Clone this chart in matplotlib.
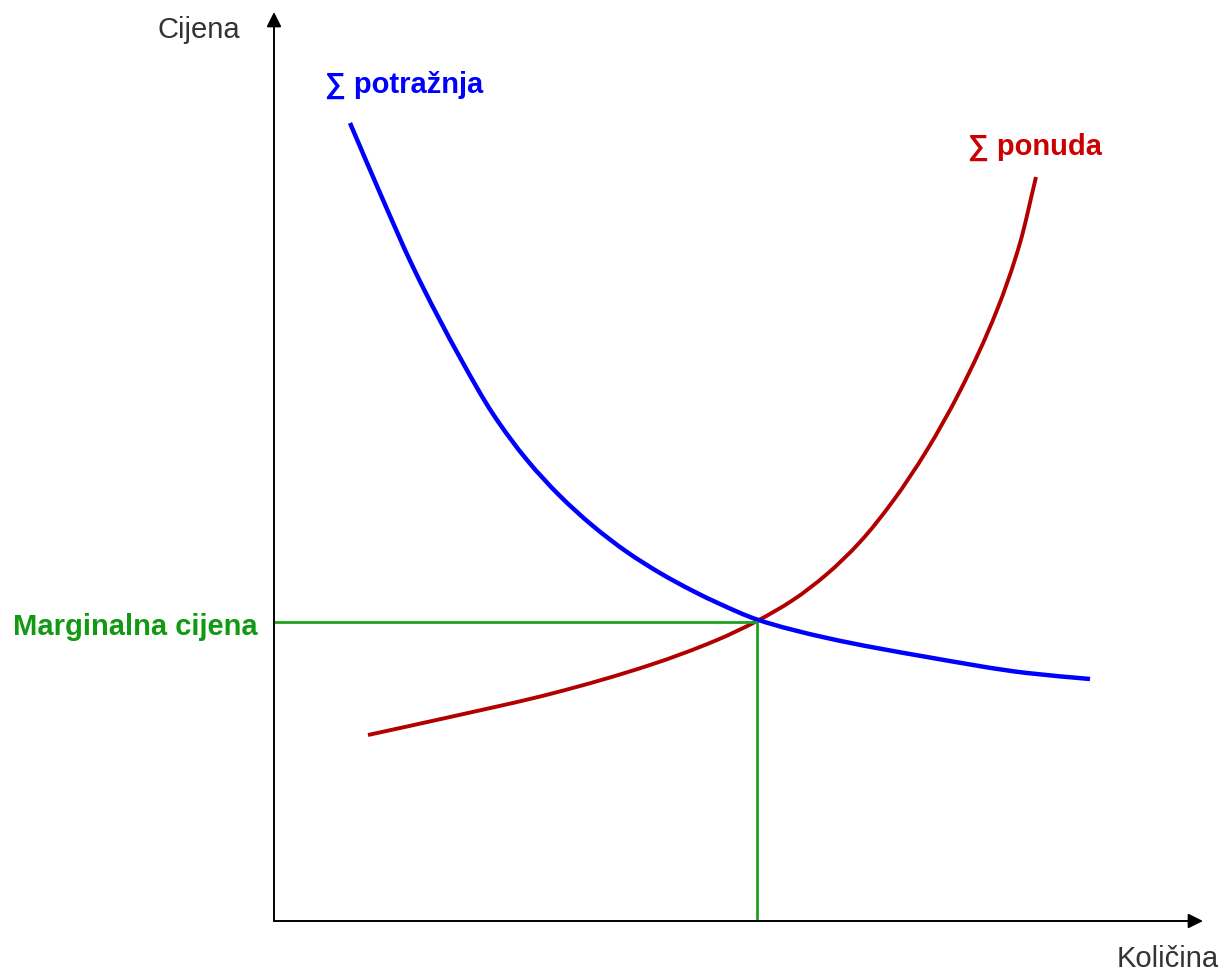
import matplotlib.pyplot as plt
from matplotlib.path import Path
from matplotlib.patches import PathPatch
import numpy as np

# aggregate demand curve (quantity, price)
demand_q = [7.6, 10.6, 13.9, 18.9, 21.9, 25.3, 28.6, 31.9, 35.3, 38.6, 41.9, 44.6, 48.3, 55.3, 65.3, 75.3, 81.6]
demand_p = [79.8, 72.8, 65.4, 55.8, 50.7, 46.1, 42.5, 39.5, 36.9, 34.8, 33.0, 31.7, 30.15, 28.3, 26.4, 24.8, 24.2]

# aggregate supply curve
supply_q = [9.4, 17.6, 27.6, 37.6, 44.3, 48.3, 51.9, 55.3, 58.6, 61.9, 65.3, 68.6, 72.3, 74.6, 76.2]
supply_p = [18.6, 20.4, 22.7, 25.6, 28.1, 30.0, 32.1, 34.7, 37.9, 42.0, 47.1, 53.0, 61.1, 67.8, 74.4]

# market clearing point
eq_q = 48.3
eq_p = 29.9

x_max = 92.9
y_max = 90.9


def smooth_path(xs, ys):
    # cubic bezier through the points, monotone (pchip-like) tangents
    x = np.asarray(xs, float)
    y = np.asarray(ys, float)
    h = np.diff(x)
    d = np.diff(y) / h
    m = np.zeros_like(y)
    m[0], m[-1] = d[0], d[-1]
    for i in range(1, len(x) - 1):
        if d[i - 1] * d[i] > 0:
            w1 = 2 * h[i] + h[i - 1]
            w2 = h[i] + 2 * h[i - 1]
            m[i] = (w1 + w2) / (w1 / d[i - 1] + w2 / d[i])
    verts = [(x[0], y[0])]
    codes = [Path.MOVETO]
    for i in range(len(x) - 1):
        verts += [(x[i] + h[i] / 3, y[i] + m[i] * h[i] / 3),
                  (x[i + 1] - h[i] / 3, y[i + 1] - m[i + 1] * h[i] / 3),
                  (x[i + 1], y[i + 1])]
        codes += [Path.CURVE4] * 3
    return Path(verts, codes)


fig = plt.figure(figsize=(12.21, 9.72), dpi=100)
ax = fig.add_axes([0, 0, 1, 1])
ax.set_xlim(-27.4, 94.7)
ax.set_ylim(-5.1, 92.1)
ax.axis('off')

# axes with arrows
ax.annotate('', xy=(x_max, 0), xytext=(0, 0),
            arrowprops=dict(arrowstyle='-|>', color='black', lw=1.4, mutation_scale=22,
                            shrinkA=0, shrinkB=0))
ax.annotate('', xy=(0, y_max), xytext=(0, 0),
            arrowprops=dict(arrowstyle='-|>', color='black', lw=1.4, mutation_scale=22,
                            shrinkA=0, shrinkB=0))

# marginal price guides
ax.plot([0, eq_q], [eq_p, eq_p], color='#1FA01F', lw=2.0, solid_capstyle='butt')
ax.plot([eq_q, eq_q], [eq_p, 0], color='#1FA01F', lw=2.0, solid_capstyle='butt')

ax.add_patch(PathPatch(smooth_path(supply_q, supply_p), fill=False, edgecolor='#B20000',
                       lw=2.8, capstyle='butt'))
ax.add_patch(PathPatch(smooth_path(demand_q, demand_p), fill=False, edgecolor='#0000FF',
                       lw=3.2, capstyle='butt'))

font = 'Liberation Sans'
ax.text(-7.5, 89.1, 'Cijena', color='#333333', fontsize=21, family=font, ha='center', va='center')
ax.text(84.3, -4.6, 'Količina', color='#333333', fontsize=21, family=font, ha='left', va='baseline')
ax.text(5.1, 82.8, '∑ potražnja', color='#0000FF', fontsize=21, family=[font, 'DejaVu Sans'],
        fontweight='bold', ha='left', va='baseline')
ax.text(69.4, 76.6, '∑ ponuda', color='#CC0000', fontsize=21, family=[font, 'DejaVu Sans'],
        fontweight='bold', ha='left', va='baseline')
ax.text(-26.1, 28.6, 'Marginalna cijena', color='#119911', fontsize=21, family=font,
        fontweight='bold', ha='left', va='baseline')

fig.savefig('out.png', dpi=100)
